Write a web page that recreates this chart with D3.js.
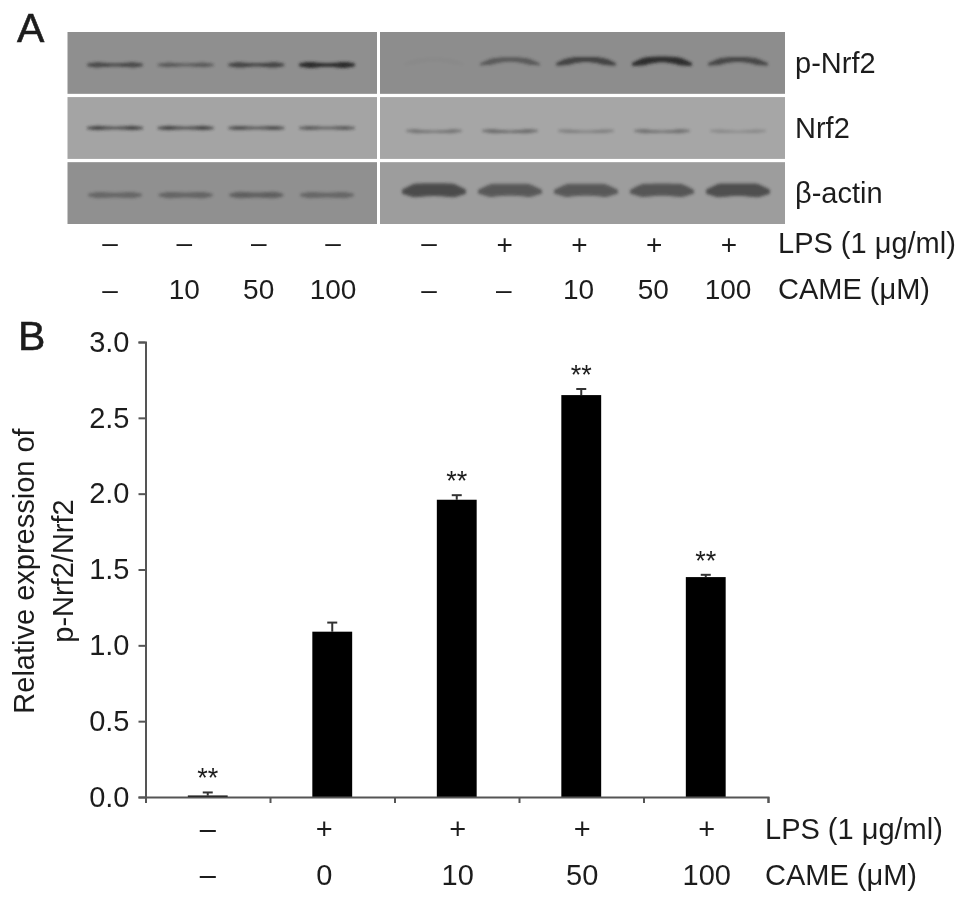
<!DOCTYPE html>
<html><head><meta charset="utf-8">
<script src="https://cdn.jsdelivr.net/npm/d3@7"></script>
<style>html,body{margin:0;background:#fff}svg{display:block}
text{font-family:"Liberation Sans",Arial,sans-serif;fill:#1f1f1f}</style></head>
<body><svg id="c" width="969" height="904"></svg>
<script>
// ---- bar chart data (panel B)
const barGroups = ["ctrl","LPS","CAME10","CAME50","CAME100"];
const barValues = [0.01,1.09,1.96,2.65,1.45];
const barErrors = [0.02,0.06,0.03,0.04,0.015];
const barStars  = ["**","","**","**","**"];
const barLps    = ["–","+","+","+","+"];
const barCame   = ["–","0","10","50","100"];
const yTicks    = [0,0.5,1,1.5,2,2.5,3];
// ---- blot data (panel A): band darkness per lane
const blotRows   = ["p-Nrf2","Nrf2","β-actin"];
const blotLps    = ["–","–","–","–","–","+","+","+","+"];
const blotCame   = ["–","10","50","100","–","–","10","50","100"];
const pNrf2Left  = [0.62,0.46,0.66,0.88];
const pNrf2Right = [0.03,0.46,0.66,0.85,0.62];
const nrf2Left   = [0.66,0.66,0.60,0.52];
const nrf2Right  = [0.36,0.42,0.28,0.38,0.20];
const actinLeft  = [0.36,0.38,0.42,0.36];
const actinRight = [0.62,0.52,0.52,0.54,0.60];

const svg = d3.select("#c");
const defs = svg.append("defs");
defs.append("filter").attr("id","b1").attr("x","-20%").attr("y","-100%").attr("width","140%").attr("height","300%")
  .append("feGaussianBlur").attr("stdDeviation",1.6);
defs.append("filter").attr("id","t").attr("filterUnits","userSpaceOnUse").attr("x",0).attr("y",0).attr("width",969).attr("height",904)
  .append("feGaussianBlur").attr("stdDeviation",0.45);
const root = svg.append("g").attr("filter","url(#t)");
root.append("rect").attr("width",969).attr("height",904).attr("fill","#fff");

// ---------- Panel A ----------
const A = root.append("g");
const rowY = d3.scaleBand().domain(blotRows).range([32,224]).paddingInner(0.05);
const leftX  = d3.scaleLinear().domain([0,3]).range([115,327]);
const rightX = d3.scaleLinear().domain([0,4]).range([434,738]);
const panelsX = [[67.5,377,leftX],[380,785,rightX]];
const bgLeft = ["#8f8f8f","#a4a4a4","#909090"], bgRight = ["#8d8d8d","#a6a6a6","#9d9d9d"];
const series = [[pNrf2Left,pNrf2Right],[nrf2Left,nrf2Right],[actinLeft,actinRight]];
// layout of band shapes: [half width, base offset from row centre, thickness, arch, lobe]
const shapeLeft  = [[28,6,4.2,0,1],[28,4,3.4,-0,1],[27,6,5.2,0,0.7]];
const shapeRight = [[30,4,4.6,5,0.7],[28,7,3.6,-1,1],[32,2,8,2,0.25]];
const ts = d3.range(0,1.001,0.05);
blotRows.forEach((r,i)=>{
  const g = A.append("g");
  [0,1].forEach(side=>{
    const [x0,x1,xs] = panelsX[side];
    g.append("rect").attr("x",x0).attr("y",rowY(r)).attr("width",x1-x0).attr("height",rowY.bandwidth())
      .attr("fill",(side?bgRight:bgLeft)[i]);
    const [hw,dy,th,arch,lobe] = (side?shapeRight:shapeLeft)[i];
    const cy = rowY(r)+rowY.bandwidth()/2+dy-4;
    series[i][side].forEach((v,k)=>{
      const cx = xs(k);
      const yc = t=>cy-arch*Math.sin(Math.PI*t)+arch*0.3;
      const hh = t=>th*(1-lobe*0.62*(1-Math.pow(Math.abs(2*t-1),1.4)))*Math.min(1,4*Math.min(t,1-t)+0.25)*(0.6+0.55*v);
      const area = d3.area().x(t=>cx-hw+2*hw*t).y0(t=>yc(t)-hh(t)).y1(t=>yc(t)+hh(t)).curve(d3.curveBasis);
      g.append("path").attr("d",area(ts)).attr("fill","#202020").attr("opacity",Math.min(1,v*1.05)).attr("filter","url(#b1)");
    });
  });
  A.append("text").attr("x",795).attr("y",rowY(r)+rowY.bandwidth()/2+10).attr("font-size",29).text(r);
});
const laneLabelLeft  = d3.scaleLinear().domain([0,3]).range([110,333]);
const laneLabelRight = d3.scaleLinear().domain([0,4]).range([429,728]);
const laneX = k=> k<4 ? laneLabelLeft(k) : laneLabelRight(k-4);
const rowA1 = 252, rowA2 = 299;
A.selectAll(".l1").data(blotLps).join("text").attr("text-anchor","middle").attr("font-size",28)
  .attr("x",(d,k)=>laneX(k)+(d==="+"?1:0)).attr("y",d=>rowA1+(d==="+"?2:0)).text(d=>d);
A.selectAll(".l2").data(blotCame).join("text").attr("text-anchor","middle").attr("font-size",28)
  .attr("x",(d,k)=>laneX(k)).attr("y",rowA2).text(d=>d);
A.append("text").attr("x",778).attr("y",rowA1+1).attr("font-size",29).text("LPS (1 μg/ml)");
A.append("text").attr("x",778).attr("y",rowA2).attr("font-size",29).text("CAME (μM)");
root.append("text").attr("x",17).attr("y",42).attr("font-size",41).attr("stroke","#1f1f1f").attr("stroke-width",0.6).text("A");
root.append("text").attr("x",18).attr("y",350).attr("font-size",41).attr("stroke","#1f1f1f").attr("stroke-width",0.6).text("B");

// ---------- Panel B ----------
const B = root.append("g");
const y = d3.scaleLinear().domain([0,3]).range([797,342]);
const xBand = d3.scaleBand().domain(barGroups).range([145.5,768]).paddingInner(0.68).paddingOuter(0.34);
const xEdge = d3.scaleLinear().domain([0,5]).range([145.5,768]);

// error bars
barGroups.forEach((g,i)=>{
  const cx = xBand(g)+xBand.bandwidth()/2;
  const top = y(barValues[i]+barErrors[i]);
  B.append("line").attr("x1",cx).attr("x2",cx).attr("y1",y(barValues[i])).attr("y2",top).attr("stroke","#333").attr("stroke-width",2);
  B.append("line").attr("x1",cx-5).attr("x2",cx+5).attr("y1",top).attr("y2",top).attr("stroke","#333").attr("stroke-width",2);
  if(barStars[i]) B.append("text").attr("x",cx).attr("y",top-5).attr("text-anchor","middle").attr("font-size",27).text(barStars[i]);
});
B.selectAll(".bar").data(barValues).join("rect").attr("fill","#000")
  .attr("x",(d,i)=>xBand(barGroups[i])).attr("width",xBand.bandwidth())
  .attr("y",d=>y(d)).attr("height",d=>y(0)-y(d));

const yAxis = d3.axisLeft(y).tickValues(yTicks).tickFormat(d3.format(".1f")).tickSize(7).tickPadding(9);
const gy = B.append("g").attr("transform","translate(145.5,0)").call(yAxis);
const gx = B.append("g").attr("transform","translate(0,797)").call(d3.axisBottom(xEdge).tickValues(d3.range(0,6)).tickFormat("").tickSize(6));
[gx,gy].forEach(g=>{g.selectAll("path,line").attr("stroke","#555").attr("stroke-width",2);});
gy.selectAll("text").attr("font-size",29).attr("fill","#1f1f1f").attr("font-family","Liberation Sans");

B.append("text").attr("transform","translate(34,571) rotate(-90)").attr("text-anchor","middle").attr("font-size",29).text("Relative expression of");
B.append("text").attr("transform","translate(73,571) rotate(-90)").attr("text-anchor","middle").attr("font-size",29).text("p-Nrf2/Nrf2");

// condition labels below the axis (second group sits slightly left of its bar)
const labelShift = [0,-8,0,0,0];
const rowB1 = 839, rowB2 = 885;
[[barLps,rowB1],[barCame,rowB2]].forEach(([arr,yy])=>{
  arr.forEach((t,i)=>{
    B.append("text").attr("x",xBand(barGroups[i])+xBand.bandwidth()/2+labelShift[i]+(i>1?1:0)).attr("y",yy)
      .attr("text-anchor","middle").attr("font-size",29).text(t);
  });
});
B.append("text").attr("x",765).attr("y",rowB1).attr("font-size",29).text("LPS (1 μg/ml)");
B.append("text").attr("x",765).attr("y",rowB2).attr("font-size",29).text("CAME (μM)");
</script></body></html>
